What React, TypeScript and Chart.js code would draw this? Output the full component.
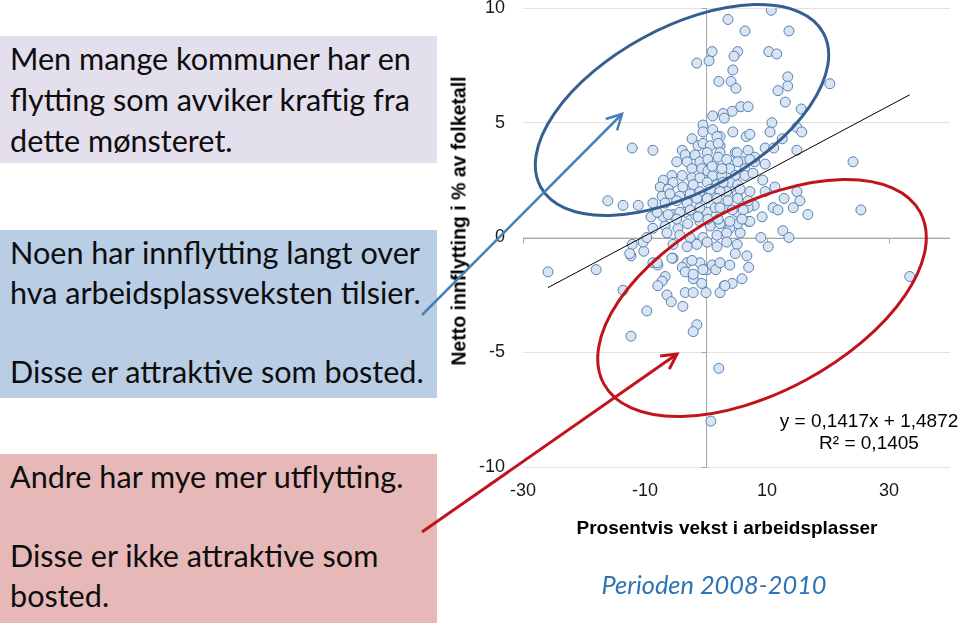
import React, { useEffect, useRef } from "react";
import { Chart, registerables } from "chart.js";

Chart.register(...registerables);

// Percentage growth in jobs (x) per municipality
const jobGrowth = [
  10.7, 3.6, 6.4, 13.6, 1.0, -1.5, 0.5, 5.2, 4.6, 10.3,
  11.6, 4.4, 2.1, 4.1, 13.4, 20.3, 4.9, 11.8, 13.4, 13.0,
  15.6, 5.7, 6.9, 4.3, 2.8, 3.0, 1.1, 10.8, 10.5, 14.9,
  15.7, 4.4, 6.6, 7.2, 12.5, 2.3, -0.5, -0.5, 1.1, 1.8,
  -2.3, -12.1, -8.7, -3.9, 2.3, 4.8, 6.9, 9.7, 11.1, 14.9,
  24.1, 9.7, 8.0, 6.1, 14.9, 15.4, 12.8, 14.3, 16.7, 11.0,
  11.8, 9.2, 25.4, 12.6, 13.6, 9.0, 10.2, 7.0, 7.9, 9.7,
  11.3, 9.3, 6.7, 7.0, 5.9, 4.3, 3.0, 3.9, 33.4, 5.6,
  5.1, 4.8, 3.6, 5.2, -25.9, -18.0, -13.6, -12.3, -10.2, -8.7,
  -7.9, -6.7, -7.2, -7.9, -6.4, -5.7, -9.7, -3.8, -3.4, -2.1,
  0.0, 2.3, 3.1, -1.5, -2.1, -12.3, 2.1, 0.8, -5.4, -3.1,
  -3.9, -3.4, -2.1, -0.7, -1.0, 0.2, 1.0, 1.6, 2.3, -3.4,
  -4.8, -3.1, -1.3, -0.5, 0.7, 2.0, 2.3, 5.1, -1.8, 0.2,
  -1.0, 0.3, 2.0, 3.4, 5.2, 8.0, -2.3, -0.7, 0.3, 1.8,
  3.9, 6.4, -5.6, -3.9, -2.3, -1.0, 1.1, 2.6, 4.8, 6.4,
  7.7, -7.0, -5.4, -7.5, -6.2, -3.8, -2.1, 0.2, 1.8, 3.9,
  5.2, -7.2, -5.9, -4.3, -2.6, -0.7, 1.5, 3.4, 5.1, -13.6,
  -11.1, -9.0, -7.0, -5.4, -3.4, -1.8, 0.2, 1.5, 3.4, 5.1,
  6.9, -8.7, -6.7, -4.6, -3.0, -1.0, 0.7, 2.3, 3.9, 7.2,
  -10.3, -12.1, -12.5, -9.7, -6.4, -4.3, -2.6, -0.5, 1.8, 3.4,
  -5.4, -3.1, -1.5, 0.2, 1.8, 3.4, -8.0, -5.6, -2.3, -2.1,
  -0.5, -16.1, 7.2, 1.0, 2.6, 2.8, -1.0, 0.7, 2.3, 5.6,
  7.2, -8.7, -6.7, -4.8, -3.1, -1.5, 0.2, 1.8, 3.6, 5.2,
  6.9, -8.0, -6.2, -4.3, -2.6, -1.0, 2.3, 4.3, 6.1, -4.8,
  -1.3, 0.3, 2.0, 3.9, 5.9,
];

// Net in-migration in % of population (y) per municipality
const netMigration = [
  9.9, 9.5, 9.0, 9.0, 8.1, 7.6, 7.7, 8.1, 7.9, 8.1,
  8.0, 7.3, 6.8, 6.8, 7.0, 6.7, 6.5, 6.4, 6.6, 5.9,
  5.6, 5.7, 5.7, 5.5, 5.4, 5.2, 5.3, 5.0, 4.6, 4.8,
  4.6, 4.6, 4.4, 4.5, 4.3, 4.4, 4.9, 4.6, 4.7, 4.4,
  4.3, 3.9, 3.8, 3.8, 4.0, 3.7, 3.8, 3.9, 3.9, 3.8,
  3.3, 3.2, 3.3, 3.3, 2.0, 1.6, 1.7, 1.3, 1.0, 1.3,
  1.2, 0.9, 1.2, 0.3, 0.0, 0.0, -0.4, 0.7, 1.4, 2.0,
  2.2, 2.5, -0.8, -1.3, -1.8, -2.0, -2.1, -1.2, -1.7, 0.2,
  -0.3, -0.7, 0.5, 0.6, -1.5, -1.4, -2.3, -0.8, -0.6, -1.1,
  -1.2, -1.7, -1.9, -2.1, -2.5, -2.8, -3.2, -3.0, -2.4, -2.4,
  -2.4, -2.4, -2.1, -3.8, -4.1, -4.3, -5.7, -8.0, -0.9, -1.1,
  -1.3, -1.5, -1.8, -2.0, -1.1, -1.4, -1.2, -1.4, -1.1, 3.6,
  3.3, 3.3, 4.0, 4.1, 4.0, 4.1, 3.7, 3.7, 3.6, 3.7,
  3.3, 3.4, 3.5, 3.4, 3.3, 3.5, 3.0, 3.0, 2.9, 3.0,
  3.0, 3.0, 2.7, 2.7, 2.6, 2.6, 2.7, 2.7, 2.7, 2.7,
  2.8, 2.5, 2.4, 2.2, 2.1, 2.2, 2.3, 2.4, 2.3, 2.4,
  2.3, 1.8, 1.9, 1.8, 1.9, 1.8, 1.9, 2.0, 1.9, 1.4,
  1.4, 0.9, 0.9, 1.0, 1.1, 1.0, 1.1, 1.3, 1.3, 1.1,
  1.3, 0.4, 0.5, 0.4, 0.6, 0.7, 0.5, 0.6, 0.4, 0.7,
  -0.2, -0.3, -0.7, 0.0, 0.2, 0.1, 0.0, 0.0, 0.1, 0.2,
  -0.3, -0.4, -0.3, -0.2, -0.4, -0.2, -1.1, -0.9, -1.0, -1.6,
  -1.4, 1.6, 3.4, 3.1, 3.0, 2.4, 2.0, 2.1, 2.0, 2.1,
  2.0, 1.5, 1.5, 1.6, 1.5, 1.7, 1.7, 1.7, 1.6, 1.7,
  1.6, 1.1, 1.0, 1.1, 1.2, 1.3, 1.3, 1.2, 1.2, 0.8,
  0.9, 0.8, 0.8, 0.7, 0.8,
];

const xTickLabels = [-30, -10, 10, 30];
const yTickValues = [-10, -5, 0, 5, 10];
const xMin = -30;
const xMax = 40;
const yMin = -10;
const yMax = 10;

const trendSlope = 0.1417;
const trendIntercept = 1.4872;
const equationText = "y = 0,1417x + 1,4872";
const rSquaredText = "R² = 0,1405";

const yAxisTitle = "Netto innflytting i % av folketall";
const xAxisTitle = "Prosentvis vekst i arbeidsplasser";
const periodText = "Perioden 2008-2010";

const box1Lines = ["Men mange kommuner har en", "flytting som avviker kraftig fra", "dette mønsteret."];
const box2Lines = ["Noen har innflytting langt over", "hva arbeidsplassveksten tilsier.", "", "Disse er attraktive som bosted."];
const box3Lines = ["Andre har mye mer utflytting.", "", "Disse er ikke attraktive som", "bosted."];

const ARIAL = "'Liberation Sans', Arial, sans-serif";
const BOX_FONT = "Lato, 'Open Sans', sans-serif";

const zeroAxesPlugin = {
  id: "zeroAxes",
  beforeDatasetsDraw(chart: any) {
    const { ctx, chartArea, scales } = chart;
    const x = scales.x;
    const y = scales.y;
    const x0 = Math.round(x.getPixelForValue(0)) + 0.5;
    const y0 = Math.round(y.getPixelForValue(0)) + 0.5;
    ctx.save();
    ctx.strokeStyle = "#a6a6a6";
    ctx.lineWidth = 1;
    ctx.beginPath();
    ctx.moveTo(x0, chartArea.top);
    ctx.lineTo(x0, chartArea.bottom);
    yTickValues.forEach((v) => {
      const py = Math.round(y.getPixelForValue(v)) + 0.5;
      ctx.moveTo(x0 - 5, py);
      ctx.lineTo(x0, py);
    });
    ctx.moveTo(chartArea.left, y0);
    ctx.lineTo(chartArea.right, y0);
    xTickLabels.forEach((v) => {
      const px = Math.round(x.getPixelForValue(v)) + 0.5;
      ctx.moveTo(px, y0);
      ctx.lineTo(px, y0 + 5);
    });
    ctx.stroke();
    ctx.restore();
  },
};

function arrowHead(x1: number, y1: number, x2: number, y2: number, len: number, deg: number) {
  const a = Math.atan2(y1 - y2, x1 - x2);
  const r = (deg * Math.PI) / 180;
  const p1 = [x2 + len * Math.cos(a + r), y2 + len * Math.sin(a + r)];
  const p2 = [x2 + len * Math.cos(a - r), y2 + len * Math.sin(a - r)];
  return `${p1[0]},${p1[1]} ${x2},${y2} ${p2[0]},${p2[1]}`;
}

function TextBox(props: { top: number; height: number; bg: string; lines: string[]; lineHeight: number; padTop: number }) {
  return (
    <div
      style={{
        position: "absolute",
        left: 0,
        top: props.top,
        width: 437,
        height: props.height,
        background: props.bg,
        boxSizing: "border-box",
        paddingTop: props.padTop,
        paddingLeft: 10,
        fontFamily: BOX_FONT,
        fontSize: 30.6,
        lineHeight: props.lineHeight + "px",
        color: "#0d0d0d",
        whiteSpace: "pre",
      }}
    >
      {props.lines.map((l, i) => (
        <div key={i} style={{ height: props.lineHeight }}>{l}</div>
      ))}
    </div>
  );
}

export default function App() {
  const canvasRef = useRef<HTMLCanvasElement | null>(null);

  useEffect(() => {
    if (!canvasRef.current) return;
    const points = jobGrowth.map((x, i) => ({ x, y: netMigration[i] }));
    const tx0 = Math.min(...jobGrowth);
    const tx1 = Math.max(...jobGrowth);
    const trend = [
      { x: tx0, y: trendSlope * tx0 + trendIntercept },
      { x: tx1, y: trendSlope * tx1 + trendIntercept },
    ];
    const chart = new Chart(canvasRef.current, {
      type: "scatter",
      data: {
        datasets: [
          {
            type: "line",
            data: trend,
            borderColor: "#000000",
            borderWidth: 1,
            pointRadius: 0,
            showLine: true,
            fill: false,
            order: 0,
          } as any,
          {
            data: points,
            backgroundColor: "#d9e4f2",
            borderColor: "#5680b4",
            borderWidth: 1,
            pointRadius: 5,
            order: 1,
          },
        ],
      },
      options: {
        animation: false,
        responsive: false,
        maintainAspectRatio: false,
        layout: { padding: { left: 473, right: 10, top: 8, bottom: 118 } },
        plugins: { legend: { display: false }, tooltip: { enabled: false } },
        scales: {
          x: {
            type: "linear",
            min: xMin,
            max: xMax,
            grid: { display: false, drawTicks: false },
            border: { display: false },
            ticks: {
              stepSize: 10,
              autoSkip: false,
              maxRotation: 0,
              padding: 13,
              color: "#1a1a1a",
              font: { family: ARIAL, size: 18 },
              callback: (v: any) => (xTickLabels.includes(Number(v)) ? String(v) : ""),
            },
            afterFit: (s: any) => {
              s.height = 40;
              s.paddingLeft = 0;
              s.paddingRight = 0;
            },
          },
          y: {
            type: "linear",
            min: yMin,
            max: yMax,
            grid: { color: "#e2e2e2", drawTicks: false },
            border: { display: false },
            ticks: {
              stepSize: 5,
              padding: 18,
              color: "#1a1a1a",
              font: { family: ARIAL, size: 18 },
              callback: (v: any) => String(v),
            },
            afterFit: (s: any) => {
              s.width = 50;
              s.paddingTop = 0;
              s.paddingBottom = 0;
            },
          },
        },
      },
      plugins: [zeroAxesPlugin],
    });
    return () => chart.destroy();
  }, []);

  return (
    <div style={{ position: "absolute", left: 0, top: 0, width: 960, height: 625, background: "#ffffff", overflow: "hidden" }}>
      <TextBox top={36} height={127} bg="#e4dfec" lines={box1Lines} lineHeight={41} padTop={2} />
      <TextBox top={230} height={168} bg="#b9cde5" lines={box2Lines} lineHeight={39.5} padTop={3} />
      <TextBox top={454} height={169} bg="#e6b9b8" lines={box3Lines} lineHeight={39.5} padTop={3} />

      <canvas ref={canvasRef} width={960} height={625} style={{ position: "absolute", left: 0, top: 0 }} />

      <div
        style={{
          position: "absolute",
          left: 459,
          top: 221,
          transform: "translate(-50%, -50%) rotate(-90deg)",
          fontFamily: ARIAL,
          fontWeight: "bold",
          fontSize: 19.5,
          whiteSpace: "nowrap",
          color: "#000",
        }}
      >
        {yAxisTitle}
      </div>
      <div
        style={{
          position: "absolute",
          left: 727,
          top: 517,
          transform: "translateX(-50%)",
          fontFamily: ARIAL,
          fontWeight: "bold",
          fontSize: 19,
          lineHeight: "22px",
          whiteSpace: "nowrap",
          color: "#000",
        }}
      >
        {xAxisTitle}
      </div>
      <div
        style={{
          position: "absolute",
          left: 869,
          top: 410,
          transform: "translateX(-50%)",
          fontFamily: ARIAL,
          fontSize: 19,
          lineHeight: "22px",
          whiteSpace: "nowrap",
          textAlign: "center",
          color: "#000",
        }}
      >
        <div>{equationText}</div>
        <div>{rSquaredText}</div>
      </div>
      <div
        style={{
          position: "absolute",
          left: 714,
          top: 569,
          transform: "translateX(-50%)",
          fontFamily: BOX_FONT,
          fontStyle: "italic",
          fontSize: 25.4,
          lineHeight: "30px",
          whiteSpace: "nowrap",
          color: "#2e74b5",
        }}
      >
        {periodText}
      </div>

      <svg width={960} height={625} style={{ position: "absolute", left: 0, top: 0, pointerEvents: "none" }}>
        <ellipse cx={682} cy={110} rx={161} ry={82} transform="rotate(-28.6 682 110)" fill="none" stroke="#365f91" strokeWidth={3} />
        <ellipse cx={762} cy={298} rx={180} ry={93} transform="rotate(-28.5 762 298)" fill="none" stroke="#c0141a" strokeWidth={3} />
        <line x1={422} y1={315} x2={622} y2={114} stroke="#4a7ebb" strokeWidth={2.5} />
        <polyline points={arrowHead(422, 315, 622, 114, 17, 28)} fill="none" stroke="#4a7ebb" strokeWidth={2.5} strokeLinejoin="miter" />
        <line x1={422} y1={532} x2={677} y2={354} stroke="#c0141a" strokeWidth={3} />
        <polyline points={arrowHead(422, 532, 677, 354, 17, 28)} fill="none" stroke="#c0141a" strokeWidth={3} strokeLinejoin="miter" />
      </svg>
    </div>
  );
}
